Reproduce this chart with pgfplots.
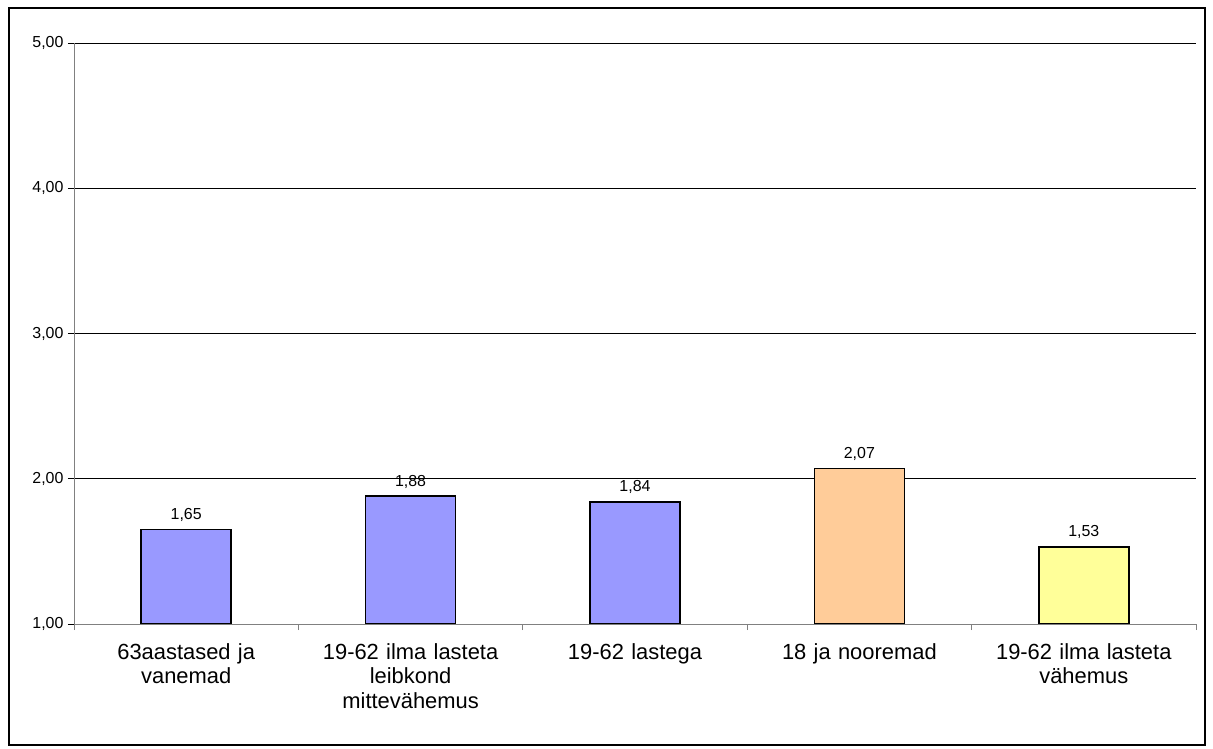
\documentclass[border=0pt]{standalone}
\usepackage{pgfplots}
\pgfplotsset{compat=1.18}
\usepackage{fontspec}
\setmainfont{Liberation Sans}
\definecolor{cblue}{HTML}{9999FF}
\definecolor{corange}{HTML}{FFCC99}
\definecolor{cyellow}{HTML}{FFFF99}
\definecolor{axgray}{HTML}{808080}
\begin{document}
\begin{tikzpicture}
\path (-74bp,-125bp) rectangle (1139bp,624bp);
\draw[line width=1.6bp] (-65bp,-121bp) rectangle (1131bp,616bp);
\begin{axis}[
  at={(0,0)}, anchor=south west,
  scale only axis, width=1122bp, height=581bp,
  xmin=-0.5, xmax=4.5, ymin=1, ymax=5,
  ytick={1,2,3,4,5},
  xtick={0,1,2,3,4},
  xticklabels={{63aastased ja\\vanemad},{19-62 ilma lasteta\\leibkond\\mittevähemus},{19-62 lastega},{18 ja nooremad},{19-62 ilma lasteta\\vähemus}},
  x tick label style={font=\fontsize{22}{24.5}\selectfont, align=center, text width=220bp, anchor=north, yshift=-10bp},
  y tick label style={font=\fontsize{16}{18}\selectfont, xshift=-1bp},
  major x tick style={draw=none},
  minor xtick={-0.5,0.5,1.5,2.5,3.5,4.5},
  minor x tick style={draw=axgray, line width=0.8bp},
  minor tick length=6bp,
  major tick length=6bp,
  tick align=outside,
  y tick style={draw=black, line width=0.8bp},
  ymajorgrids, grid style={black, line width=0.8bp},
  axis line style={draw=none},
  axis x line*=bottom, axis y line*=left,
  yticklabel style={/pgf/number format/fixed, /pgf/number format/fixed zerofill, /pgf/number format/precision=2, /pgf/number format/use comma},
  /pgf/number format/assume math mode=true,
  ybar, bar width=90bp, bar shift=0pt,
  nodes near coords,
  nodes near coords style={font=\fontsize{16}{18}\selectfont, yshift=4bp, /pgf/number format/fixed, /pgf/number format/fixed zerofill, /pgf/number format/precision=2, /pgf/number format/use comma, /pgf/number format/assume math mode=true},
  clip=false,
]
\addplot[fill=cblue, draw=black, line width=1.5bp] coordinates {(0,1.65) (1,1.88) (2,1.84)};
\addplot[fill=corange, draw=black, line width=1.5bp] coordinates {(3,2.07)};
\addplot[fill=cyellow, draw=black, line width=1.5bp] coordinates {(4,1.53)};
\draw[axgray, line width=1bp] (axis cs:-0.5,1) -- (axis cs:4.5,1);
\draw[axgray, line width=1bp] (axis cs:-0.5,1) -- (axis cs:-0.5,5);
\end{axis}
\end{tikzpicture}
\end{document}
